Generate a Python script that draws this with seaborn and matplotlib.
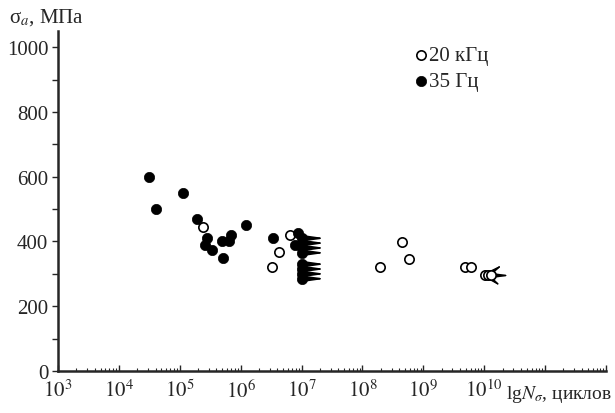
import numpy as np
import pandas as pd
import matplotlib
matplotlib.use("Agg")
import matplotlib.pyplot as plt
import seaborn as sns

# 35 Hz tests (failures)
n_35 = [3.1e4, 4.0e4, 1.12e5, 1.9e5, 2.8e5, 2.6e5, 3.4e5, 4.9e5, 5.2e5, 6.5e5, 6.9e5, 1.23e6, 3.4e6, 8.7e6, 7.9e6]
s_35 = [600, 500, 550, 470, 410, 390, 375, 400, 350, 400, 420, 450, 410, 425, 390]
# 35 Hz run-outs at 1e7 cycles
n_35_run = [1e7] * 8
s_35_run = [410, 395, 380, 365, 330, 315, 300, 285]

# 20 kHz tests (failures)
n_20k = [2.45e5, 3.3e6, 4.3e6, 6.5e6, 1.95e8, 4.5e8, 5.9e8, 4.9e9, 6.0e9]
s_20k = [445, 322, 369, 421, 320, 398, 345, 320, 322]
# 20 kHz run-outs
n_20k_run = [1.02e10, 1.17e10, 1.29e10]
s_20k_run = [295, 295, 295]

sns.set_style("ticks")
plt.rcParams['font.family'] = ['Liberation Serif', 'DejaVu Serif']
plt.rcParams['mathtext.fontset'] = 'stix'

df35 = pd.DataFrame({'N': n_35 + n_35_run, 's': s_35 + s_35_run})
df20 = pd.DataFrame({'N': n_20k + n_20k_run, 's': s_20k + s_20k_run})

fig = plt.figure(figsize=(6.15, 4.14), dpi=100)
ax = fig.add_axes([0.0943, 0.1014, 0.8911, 0.8213])

arrow_style = '-|>,head_length=1.2,head_width=0.17'

# run-out arrows
for n, s in zip(n_35_run, s_35_run):
    ax.annotate('', xy=(n * 2.5, s), xytext=(n, s),
                arrowprops=dict(arrowstyle=arrow_style,
                                color='k', lw=1.2, shrinkA=0, shrinkB=0), zorder=2)
n0 = n_20k_run[-1]
for dx, dy in [(2.1, 0), (1.6, 35), (1.5, -35)]:
    ax.annotate('', xy=(n0 * dx, s_20k_run[-1] + dy), xytext=(n0 * 0.85, s_20k_run[-1]),
                arrowprops=dict(arrowstyle=arrow_style,
                                color='k', lw=1.0, shrinkA=0, shrinkB=0), zorder=2)

sns.scatterplot(data=df20, x='N', y='s', ax=ax, marker='o', s=45,
                facecolor='white', edgecolor='black', linewidth=1.2,
                label='20 кГц', zorder=3)
sns.scatterplot(data=df35, x='N', y='s', ax=ax, marker='o', s=55,
                color='black', edgecolor='black', linewidth=0.5,
                label='35 Гц', zorder=3)

ax.set_xscale('log')
ax.set_xlim(1e3, 1e12)
ax.set_ylim(0, 1050)
ax.set_xlabel('')
ax.set_ylabel('')

ax.set_xticks([10.0 ** k for k in range(3, 13)])
ax.set_xticklabels(['$10^{%d}$' % k for k in range(3, 11)] + ['', ''])
ax.xaxis.set_minor_locator(matplotlib.ticker.LogLocator(base=10, subs=np.arange(2, 10), numticks=20))
ax.xaxis.set_minor_formatter(matplotlib.ticker.NullFormatter())
ax.tick_params(axis='x', which='major', direction='in', length=4, width=1, labelsize=15, pad=6)
ax.tick_params(axis='x', which='minor', direction='in', length=2, width=0.8)

ax.set_yticks([0, 200, 400, 600, 800, 1000])
ax.set_yticks([100, 300, 500, 700, 900], minor=True)
ax.tick_params(axis='y', which='major', direction='out', length=4, width=1, labelsize=15, pad=3)
ax.tick_params(axis='y', which='minor', direction='out', length=4, width=1)

for side in ['top', 'right']:
    ax.spines[side].set_visible(False)
for side in ['left', 'bottom']:
    ax.spines[side].set_linewidth(1.8)

fig.text(0.015, 0.945, 'σ$_{a}$, МПа', fontsize=15)
ax.text(0.818, -0.035, 'lg$N_{\\sigma}$, циклов', transform=ax.transAxes,
        fontsize=14, va='top', ha='left')

ax.legend(loc='upper left', bbox_to_anchor=(0.62, 1.0), frameon=False,
          fontsize=15, handletextpad=0.0, handlelength=0.8,
          borderpad=0.2, labelspacing=0.3)

plt.savefig('out.png', dpi=100)
